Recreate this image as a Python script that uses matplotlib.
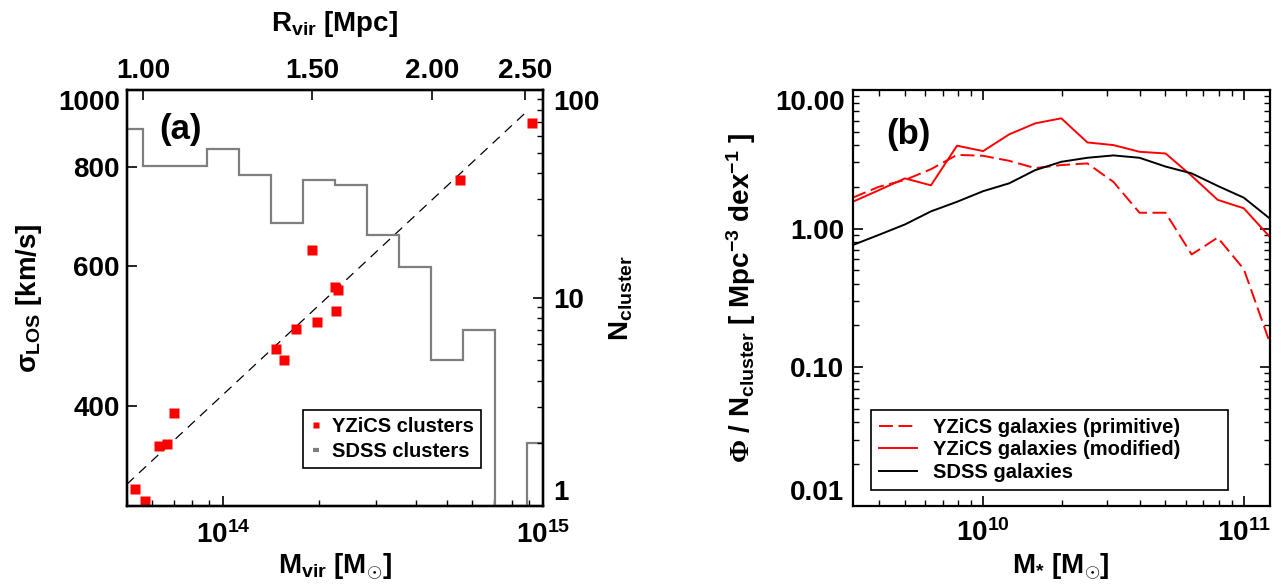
#!/usr/bin/env python3
"""Cluster sigma_LOS vs M_vir (a) and stellar mass functions per cluster (b)."""

import matplotlib
matplotlib.use("Agg")
import matplotlib.pyplot as plt
import numpy as np
from matplotlib.lines import Line2D
from matplotlib.ticker import FixedFormatter, FixedLocator, LogLocator, NullLocator

# ---- panel (a): YZiCS clusters, sigma_LOS vs M_vir
yzics_mvir = [9.2e14, 5.5e14, 1.9e14, 2.24e14, 2.28e14, 2.25e14, 1.96e14, 1.69e14,
              1.46e14, 1.55e14, 7.0e13, 6.3e13, 6.7e13, 5.3e13, 5.7e13]
yzics_sigma = [910, 770, 629, 565, 560, 528, 511, 500, 472, 457, 392, 357, 359, 315, 304]

# dashed scaling relation: sigma = fit_sigma14 * (M / 1e14) ** fit_slope
fit_sigma14 = 414.0
fit_slope = 0.375
fit_mvir = [5e13, 9e14]

# SDSS cluster counts per 0.1 dex in M_vir (right axis)
sdss_logm_edges = [13.65, 13.75, 13.85, 13.95, 14.05, 14.15, 14.25, 14.35,
                   14.45, 14.55, 14.65, 14.75, 14.85, 14.95, 15.05]
sdss_ncluster = [65, 43, 43, 52, 39, 23, 37, 35, 20, 14, 5, 7, 1, 2]

rvir_ticks = [1.00, 1.50, 2.00, 2.50]
mvir_at_1mpc = 10 ** 13.75          # M_vir where R_vir = 1 Mpc
sigma_ticks = [400, 600, 800, 1000]
ncluster_ticks = [1, 10, 100]

# ---- panel (b): stellar mass functions
logmstar = [9.5, 9.6, 9.7, 9.8, 9.9, 10.0, 10.1, 10.2, 10.3, 10.4,
            10.5, 10.6, 10.7, 10.8, 10.9, 11.0, 11.1]
phi_primitive = [1.67, 2.00, 2.24, 2.68, 3.40, 3.35, 3.08, 2.73, 2.87, 2.95,
                 2.17, 1.30, 1.30, 0.65, 0.86, 0.51, 0.15]
phi_modified = [1.56, 1.89, 2.30, 2.05, 3.96, 3.62, 4.78, 5.74, 6.24, 4.18,
                4.00, 3.58, 3.48, 2.40, 1.61, 1.40, 0.87]
phi_sdss = [0.76, 0.90, 1.07, 1.33, 1.56, 1.86, 2.12, 2.64, 3.03, 3.24,
            3.37, 3.24, 2.80, 2.50, 2.03, 1.67, 1.18]
phi_ticks = [0.01, 0.1, 1.0, 10.0]
phi_ticklabels = ["0.01", "0.10", "1.00", "10.00"]

RED = "#ff0000"
GREY = "#7f7f7f"
TICK_FS = 20
LABEL_FS = 20

plt.rcParams.update({
    "font.family": "Liberation Sans",
    "font.weight": "bold",
    "axes.labelweight": "bold",
    "mathtext.fontset": "custom",
    "mathtext.rm": "Liberation Sans:bold",
    "mathtext.bf": "Liberation Sans:bold",
    "mathtext.it": "Liberation Sans",
    "mathtext.sf": "Liberation Serif",
    "mathtext.default": "rm",
    "axes.linewidth": 1.6,
    "lines.scale_dashes": False,
})


def style_ticks(ax):
    ax.tick_params(which="major", direction="in", length=7, width=1.2, labelsize=TICK_FS)
    ax.tick_params(which="minor", direction="in", length=4, width=1.0)


def pin_end_labels(axis, n, first=True, last=True):
    # edge labels sit inside the axis range, as in the original plot
    ticks = axis.get_major_ticks(n)
    if first:
        ticks[0].label1.set_va("bottom")
        ticks[0].label2.set_va("bottom")
    if last:
        ticks[-1].label1.set_va("top")
        ticks[-1].label2.set_va("top")


fig = plt.figure(figsize=(12.81, 5.84), dpi=100)

# ---------------- panel (a)
ax = fig.add_axes([0.099, 0.134, 0.325, 0.712])
ax.set_xscale("log")
ax.set_yscale("log")
m_fit = np.array(fit_mvir)
ax.plot(m_fit, fit_sigma14 * (m_fit / 1e14) ** fit_slope, color="k", lw=0.9, dashes=(7, 5))
ax.plot(yzics_mvir, yzics_sigma, ls="none", marker="s", ms=7.5, color=RED, mec="none")

axn = ax.twinx()
axn.set_yscale("log")
axn.stairs(sdss_ncluster, 10 ** np.array(sdss_logm_edges), color=GREY, lw=1.6, baseline=None)

ax.set_xlim(5e13, 1e15)
ax.set_ylim(300, 1000)
axn.set_ylim(1, 100)

ax.xaxis.set_major_locator(FixedLocator([1e14, 1e15]))
ax.xaxis.set_major_formatter(FixedFormatter([r"$10^{14}$", r"$10^{15}$"]))
ax.xaxis.set_minor_locator(LogLocator(base=10, subs=np.arange(2, 10)))
ax.yaxis.set_major_locator(FixedLocator(sigma_ticks))
ax.yaxis.set_major_formatter(FixedFormatter([str(s) for s in sigma_ticks]))
ax.yaxis.set_minor_locator(NullLocator())
style_ticks(ax)
ax.tick_params(axis="both", which="both", top=False, right=False)
ax.tick_params(axis="y", pad=5)
ax.tick_params(axis="x", pad=11)

axn.yaxis.set_major_locator(FixedLocator(ncluster_ticks))
axn.yaxis.set_major_formatter(FixedFormatter([str(n) for n in ncluster_ticks]))
axn.yaxis.set_minor_locator(LogLocator(base=10, subs=np.arange(2, 10)))
style_ticks(axn)
axn.tick_params(axis="y", pad=7)

axr = ax.twiny()
axr.set_xscale("log")
axr.set_xlim(ax.get_xlim())
axr.xaxis.set_major_locator(FixedLocator(mvir_at_1mpc * np.array(rvir_ticks) ** 3))
axr.xaxis.set_major_formatter(FixedFormatter([f"{r:.2f}" for r in rvir_ticks]))
axr.xaxis.set_minor_locator(NullLocator())
style_ticks(axr)
axr.tick_params(axis="x", pad=4.5)

ax.set_xlabel(r"M$_{vir}$ [M$_{\odot}$]", fontsize=LABEL_FS, labelpad=2)
ax.set_ylabel(r"$\mathit{\sigma}_{LOS}$ [km/s]", fontsize=LABEL_FS, labelpad=10)
axn.set_ylabel(r"N$_{cluster}$", fontsize=LABEL_FS, labelpad=6)
axr.set_xlabel(r"R$_{vir}$ [Mpc]", fontsize=LABEL_FS, labelpad=19)

ax.text(0.13, 0.904, "(a)", transform=ax.transAxes, fontsize=25, ha="center", va="center")

handles_a = [
    Line2D([], [], ls="none", marker="s", ms=5, color=RED, mec="none"),
    Line2D([], [], ls="none", marker="_", ms=5, mew=3, color=GREY),
]
leg_a = axn.legend(handles_a, ["YZiCS clusters", "SDSS clusters"], loc="upper left",
                   bbox_to_anchor=(0.422, 0.230), fontsize=14.5, frameon=True, fancybox=False,
                   edgecolor="k", framealpha=1, handlelength=0.6, handletextpad=0.5,
                   labelspacing=0.28, borderpad=0.35, borderaxespad=0)
leg_a.get_frame().set_linewidth(1.2)

pin_end_labels(ax.yaxis, len(sigma_ticks), first=False)
pin_end_labels(axn.yaxis, len(ncluster_ticks))

# ---------------- panel (b)
bx = fig.add_axes([0.6657, 0.134, 0.3256, 0.712])
mstar = 10 ** np.array(logmstar)
bx.plot(mstar, phi_primitive, color=RED, lw=1.4, dashes=(10, 4), label="YZiCS galaxies (primitive)")
bx.plot(mstar, phi_modified, color=RED, lw=1.4, label="YZiCS galaxies (modified)")
bx.plot(mstar, phi_sdss, color="k", lw=1.4, label="SDSS galaxies")
bx.set_xscale("log")
bx.set_yscale("log")
bx.set_xlim(10 ** 9.5, 10 ** 11.1)
bx.set_ylim(0.01, 10)

bx.xaxis.set_major_locator(FixedLocator([1e10, 1e11]))
bx.xaxis.set_major_formatter(FixedFormatter([r"$10^{10}$", r"$10^{11}$"]))
bx.xaxis.set_minor_locator(LogLocator(base=10, subs=np.arange(2, 10)))
bx.yaxis.set_major_locator(FixedLocator(phi_ticks))
bx.yaxis.set_major_formatter(FixedFormatter(phi_ticklabels))
bx.yaxis.set_minor_locator(LogLocator(base=10, subs=np.arange(2, 10)))
style_ticks(bx)
bx.tick_params(axis="both", which="both", top=True, right=True)
bx.tick_params(axis="y", pad=6)
bx.tick_params(axis="x", pad=10)

bx.set_xlabel(r"M$_{*}$ [M$_{\odot}$]", fontsize=LABEL_FS, labelpad=3)
bx.set_ylabel(r"$\mathsf{\Phi}$ / N$_{cluster}$ [ Mpc$^{-3}$ dex$^{-1}$ ]",
              fontsize=LABEL_FS, labelpad=12)
bx.text(0.134, 0.893, "(b)", transform=bx.transAxes, fontsize=25, ha="center", va="center")

leg_b = bx.legend(loc="upper left", bbox_to_anchor=(0.043, 0.0, 0.857, 0.231), mode="expand",
                  fontsize=14.5, frameon=True, fancybox=False, edgecolor="k", framealpha=1,
                  handlelength=1.9, handletextpad=0.8, labelspacing=0.18,
                  borderpad=0.4, borderaxespad=0)
leg_b.get_frame().set_linewidth(1.2)

pin_end_labels(bx.yaxis, len(phi_ticks))

fig.savefig("out.png", dpi=100)
